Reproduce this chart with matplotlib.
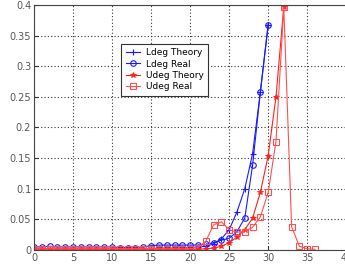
import numpy as np
import matplotlib
matplotlib.use("Agg")
import matplotlib.pyplot as plt

# degree index
x_l = list(range(0, 31))
x_u_theory = list(range(0, 33))
x_u_real = list(range(0, 37))

ldeg_theory = [0.002, 0.002, 0.002, 0.002, 0.002, 0.002, 0.002, 0.002, 0.002, 0.002,
               0.002, 0.002, 0.002, 0.002, 0.002, 0.002, 0.003, 0.003, 0.003, 0.003,
               0.004, 0.005, 0.006, 0.010, 0.018, 0.033, 0.062, 0.100, 0.157, 0.258,
               0.368]
ldeg_real = [0.005, 0.005, 0.006, 0.005, 0.005, 0.005, 0.005, 0.005, 0.005, 0.005,
             0.005, 0.004, 0.004, 0.004, 0.005, 0.007, 0.008, 0.008, 0.008, 0.008,
             0.008, 0.008, 0.009, 0.012, 0.016, 0.019, 0.030, 0.052, 0.138, 0.258,
             0.368]
udeg_theory = [0.001, 0.001, 0.001, 0.001, 0.001, 0.001, 0.001, 0.001, 0.001, 0.001,
               0.001, 0.001, 0.001, 0.001, 0.001, 0.001, 0.001, 0.001, 0.001, 0.001,
               0.001, 0.001, 0.002, 0.003, 0.006, 0.012, 0.021, 0.033, 0.052, 0.094,
               0.154, 0.250, 0.397]
udeg_real = [0.002, 0.002, 0.002, 0.002, 0.002, 0.002, 0.002, 0.002, 0.002, 0.002,
             0.002, 0.002, 0.002, 0.002, 0.002, 0.002, 0.002, 0.002, 0.002, 0.002,
             0.002, 0.004, 0.014, 0.041, 0.046, 0.033, 0.029, 0.030, 0.037, 0.054,
             0.094, 0.177, 0.397, 0.038, 0.006, 0.002, 0.001]

fig = plt.figure(figsize=(3.45, 2.72), dpi=100)
ax = fig.add_axes([0.0986, 0.081, 0.905, 0.901])

ax.plot(x_l, ldeg_theory, color="#1a1aff", lw=0.8, marker="+", ms=4, mew=0.8,
        label="Ldeg Theory")
ax.plot(x_l, ldeg_real, color="#1a1aff", lw=0.8, marker="o", ms=4, mew=0.8,
        mfc="none", label="Ldeg Real")
ax.plot(x_u_theory, udeg_theory, color="#ff2020", lw=0.8, marker="*", ms=4, mew=0.6,
        label="Udeg Theory")
ax.plot(x_u_real, udeg_real, color="#ff5050", lw=0.8, marker="s", ms=4, mew=0.8,
        mfc="none", label="Udeg Real")

ax.set_xlim(0, 40)
ax.set_ylim(0, 0.4)
ax.set_xticks(np.arange(0, 41, 5))
ax.set_yticks(np.arange(0, 0.41, 0.05))
ax.set_yticklabels(["0", "0.05", "0.1", "0.15", "0.2", "0.25", "0.3", "0.35", "0.4"])
ax.tick_params(direction="in", length=3, labelsize=7, labelcolor="#555555",
               colors="#333333", pad=2)
ax.grid(True, linestyle=(0, (1, 2)), color="#333333", lw=0.8)
for s in ax.spines.values():
    s.set_color("#444444")
    s.set_linewidth(0.8)

leg = ax.legend(loc="upper left", bbox_to_anchor=(0.279, 0.841), borderaxespad=0,
                fontsize=6.5, fancybox=False, framealpha=1, edgecolor="#333333",
                handlelength=1.6, labelspacing=0.25, borderpad=0.5, handletextpad=0.6)
leg.get_frame().set_linewidth(0.8)

fig.savefig("out.png", dpi=100)
